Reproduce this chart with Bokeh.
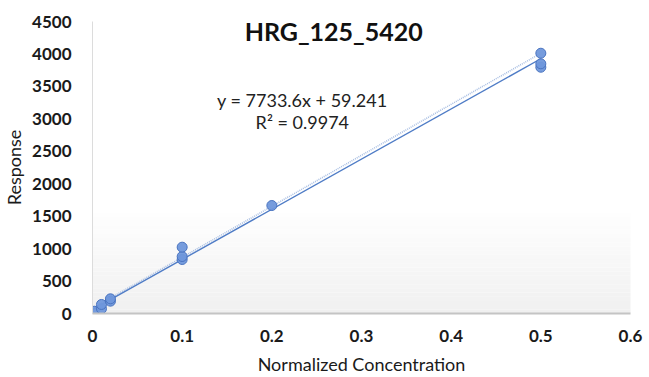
from bokeh.plotting import figure
from bokeh.models import Label, FixedTicker, CustomJSTickFormatter
from bokeh.embed import file_html
from bokeh.resources import INLINE

# Calibration standards: normalized concentration vs. instrument response
conc = [0.002, 0.01, 0.01, 0.02, 0.02, 0.1, 0.1, 0.1, 0.2, 0.5, 0.5, 0.5]
resp = [35, 72, 139, 190, 226, 832, 878, 1022, 1664, 3795, 3848, 4011]

# Linear trendline reported on the chart
slope = 7733.6
intercept = 59.241
r_squared = 0.9974
fit_x = [0.0, 0.5]

# Secondary dotted guide line endpoints
guide_x = [0.0, 0.5]
guide_y = [80, 4010]

x_ticks = [0, 0.1, 0.2, 0.3, 0.4, 0.5, 0.6]
y_ticks = [0, 500, 1000, 1500, 2000, 2500, 3000, 3500, 4000, 4500]

FONT = "Lato"

p = figure(width=649, height=377, x_range=(0, 0.6), y_range=(0, 4500),
           output_backend="svg", toolbar_location=None,
           min_border_left=89, min_border_right=19,
           min_border_top=21, min_border_bottom=64)
p.outline_line_color = None
p.grid.grid_line_color = None
p.background_fill_color = "white"
p.border_fill_color = "white"

# soft grey shading at the bottom of the plot area
n_bands = 24
band_top = 1550
for i in range(n_bands):
    y0 = band_top * i / n_bands
    y1 = band_top * (i + 1) / n_bands
    t = i / (n_bands - 1)
    g = int(round(240 + (254 - 240) * t))
    p.quad(left=0, right=0.605, bottom=y0, top=y1,
           fill_color=(g, g, g), line_color=None)

# trendline and dotted guide
fit_y = [slope * x + intercept for x in fit_x]
p.line(guide_x, guide_y, line_color="#a9bfe3", line_width=1.6, line_dash="1 1")
p.line(fit_x, fit_y, line_color="#4f7cc6", line_width=1.4)

# measured points
p.scatter(conc, resp, size=10, fill_color="#6f97db", line_color="#4a74c0",
          line_width=1, fill_alpha=0.95)

# axes
p.xaxis.ticker = FixedTicker(ticks=x_ticks)
p.yaxis.ticker = FixedTicker(ticks=y_ticks)
p.xaxis.formatter = CustomJSTickFormatter(
    code="return tick.toFixed(1).replace(/\\.0$/, '');")

for ax in (p.xaxis[0], p.yaxis[0]):
    ax.major_tick_line_color = None
    ax.minor_tick_line_color = None
    ax.major_label_text_font = FONT
    ax.major_label_text_font_style = "bold"
    ax.major_label_text_font_size = "17px"
    ax.major_label_text_color = "#1a1a1a"
    ax.axis_label_text_font = FONT
    ax.axis_label_text_font_style = "normal"
    ax.axis_label_text_font_size = "18px"
    ax.axis_label_text_color = "#1a1a1a"

p.xaxis.axis_line_color = "#c4c4c4"
p.xaxis.axis_line_width = 2
p.yaxis.axis_line_color = "#dcdcdc"
p.yaxis.axis_line_width = 1
p.xaxis.major_label_standoff = 10
p.yaxis.major_label_standoff = 15
p.xaxis.axis_label = "Normalized Concentration"
p.yaxis.axis_label = "Response"
p.xaxis.axis_label_standoff = 8
p.yaxis.axis_label_standoff = 4

# title and equation labels inside the plot area
p.add_layout(Label(x=0.269, y=4360, text="HRG_125_5420", text_align="center",
                   text_baseline="middle", text_font=FONT, text_font_style="bold",
                   text_font_size="25px", text_color="#111111"))
p.add_layout(Label(x=0.234, y=3285, text=f"y = {slope}x + {intercept}",
                   text_align="center", text_baseline="middle", text_font=FONT,
                   text_font_size="18px", text_color="#222222"))
p.add_layout(Label(x=0.234, y=2955, text=f"R² = {r_squared}",
                   text_align="center", text_baseline="middle", text_font=FONT,
                   text_font_size="18px", text_color="#222222"))

open("out.html", "w").write(file_html(p, INLINE))
